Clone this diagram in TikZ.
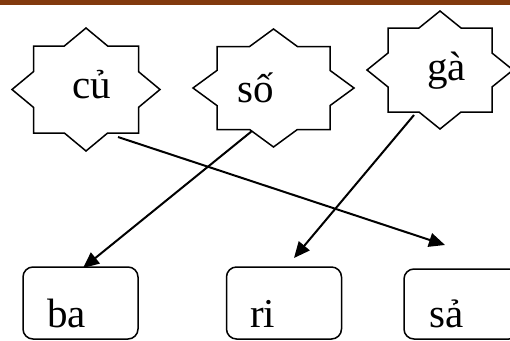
\documentclass[tikz,border=0pt]{standalone}
\usepackage{fontspec}
\setmainfont{Liberation Serif}
\usetikzlibrary{arrows.meta}
\definecolor{barbrown}{RGB}{130,58,14}
\tikzset{
  starline/.style={draw=black, line width=1.5pt, line join=miter},
  word/.style={inner sep=0pt, anchor=base west, font=\fontsize{41}{41}\selectfont},
  card/.style={draw=black, line width=1.5pt, rounded corners=10pt, minimum width=115pt, minimum height=72pt, inner sep=0pt},
  link/.style={draw=black, line width=2pt, -{Triangle[length=16pt,width=14pt]}}
}
% eight-pointed star: union of a rectangle (half sizes w,h) and a rhombus (half sizes a,b)
% #1,#2 centre, #3 a, #4 b, #5 w, #6 h
\newcommand{\octostar}[6]{%
  \pgfmathsetmacro\stx{#3*(1-#6/#4)}%
  \pgfmathsetmacro\sty{#4*(1-#5/#3)}%
  \draw[starline] ({#1},{#2-#4}) -- ({#1+\stx},{#2-#6}) -- ({#1+#5},{#2-#6})
    -- ({#1+#5},{#2-\sty}) -- ({#1+#3},{#2}) -- ({#1+#5},{#2+\sty})
    -- ({#1+#5},{#2+#6}) -- ({#1+\stx},{#2+#6}) -- ({#1},{#2+#4})
    -- ({#1-\stx},{#2+#6}) -- ({#1-#5},{#2+#6}) -- ({#1-#5},{#2+\sty})
    -- ({#1-#3},{#2}) -- ({#1-#5},{#2-\sty}) -- ({#1-#5},{#2-#6})
    -- ({#1-\stx},{#2-#6}) -- cycle;}
\begin{document}
\begin{tikzpicture}[x=1pt, y=-1pt]
  \useasboundingbox (0,0) rectangle (510,340);
  \fill[barbrown] (0,0) rectangle (510,5);

  % stars with their words
  \octostar{86}{89.5}{74}{61.5}{52.5}{43.5}
  \octostar{273.5}{88}{80.5}{59}{56.5}{41.5}
  \octostar{440}{70}{73}{59}{52}{42}
  \node[word] (cu) at (72,98) {củ};
  \node[word] (so) at (237,102) {số};
  \node[word] (ga) at (427,80) {gà};

  % cards with their words
  \node[card] (boxBa) at (80.5,303) {};
  \node[card] (boxRi) at (284,303) {};
  \node[card, minimum height=70pt] (boxSa) at (461.5,304) {};
  \node[word] (ba) at (47,327) {ba};
  \node[word] (ri) at (250,327) {ri};
  \node[word] (sa) at (429,327) {sả};

  % connector ends
  \coordinate (cuOut) at (118,137);
  \coordinate (soOut) at (252,131);
  \coordinate (gaOut) at (414,115);
  \coordinate (baIn) at (83,268);
  \coordinate (riIn) at (294,258);
  \coordinate (saIn) at (445,245);

  \draw[link] (cuOut) -- (saIn);
  \draw[link] (soOut) -- (baIn);
  \draw[link] (gaOut) -- (riIn);
\end{tikzpicture}
\end{document}
